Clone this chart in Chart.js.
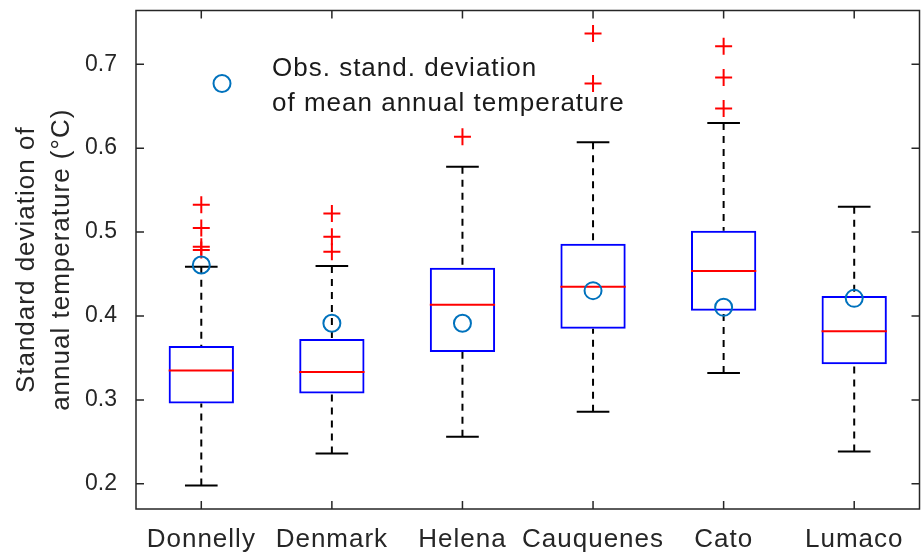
<!DOCTYPE html>
<html>
<head>
<meta charset="utf-8">
<script src="https://cdn.jsdelivr.net/npm/chart.js@4/dist/chart.umd.min.js"></script>
<style>
html, body { margin: 0; padding: 0; background: #fff; overflow: hidden; }
#wrap { width: 921px; height: 557px; overflow: hidden; }
canvas { display: block; }
</style>
</head>
<body>
<div id="wrap"><canvas id="c" width="930" height="557"></canvas></div>
<script>
// Station names along the x axis
const sites = ['Donnelly', 'Denmark', 'Helena', 'Cauquenes', 'Cato', 'Lumaco'];

// Box-plot statistics of the simulated standard deviation (°C)
const lowerWhisker = [0.198, 0.236, 0.256, 0.286, 0.332, 0.2385];
const q1           = [0.2956, 0.3075, 0.3571, 0.3849, 0.4063, 0.3425];
const median       = [0.3349, 0.3333, 0.4135, 0.4349, 0.4536, 0.3818];
const q3           = [0.3643, 0.3726, 0.4575, 0.4861, 0.5016, 0.4238];
const upperWhisker = [0.4587, 0.4595, 0.5778, 0.6071, 0.6298, 0.5302];

// Outlying values per station
const outliers = [
  [0.5325, 0.5048, 0.4825, 0.4786],
  [0.5222, 0.4944, 0.4765],
  [0.6135],
  [0.7365, 0.677],
  [0.7214, 0.6842, 0.6473],
  []
];

// Observed standard deviation of mean annual temperature
const observed = [0.4607, 0.3913, 0.3913, 0.4302, 0.4103, 0.4210];

// Axis ticks and texts
const yTicks = [0.2, 0.3, 0.4, 0.5, 0.6, 0.7];
const yTitle = ['Standard deviation of', 'annual temperature (°C)'];
const legendLines = ['Obs. stand. deviation', 'of mean annual temperature'];

const FONT = "'Liberation Sans', Arial, Helvetica, sans-serif";
const AXIS_COLOR = '#262626';
const SPACING = '1px';

// Whisker segments: cap -> box edge, broken between segments
const whiskerPoints = [];
sites.forEach((s, i) => {
  whiskerPoints.push({ x: s, y: upperWhisker[i] }, { x: s, y: q3[i] }, { x: s, y: null });
  whiskerPoints.push({ x: s, y: lowerWhisker[i] }, { x: s, y: q1[i] }, { x: s, y: null });
});

const outlierPoints = [];
sites.forEach((s, i) => outliers[i].forEach(v => outlierPoints.push({ x: s, y: v })));

// Width of one category slot in pixels
const slot = (ctx) => ctx.chart.scales.x.width / sites.length;

// Slightly wider text, as in the exported figure (numbers stay plain)
const textSpacing = {
  id: 'textSpacing',
  beforeUpdate(chart) { chart.ctx.letterSpacing = SPACING; },
  afterUpdate(chart) {
    const y = chart.scales.y;
    if (y && !y._plainLabels) {
      const drawLabels = y.drawLabels;
      y.drawLabels = function (area) {
        const ctx = this.ctx;
        const prev = ctx.letterSpacing;
        ctx.letterSpacing = '0px';
        drawLabels.call(this, area);
        ctx.letterSpacing = prev;
      };
      y._plainLabels = true;
    }
  },
  beforeDraw(chart) { chart.ctx.letterSpacing = SPACING; }
};

// Axes box with inward tick marks on all four sides
const axesBox = {
  id: 'axesBox',
  afterDraw(chart) {
    const { ctx, chartArea: a, scales: { x, y } } = chart;
    const len = 8;
    ctx.save();
    ctx.strokeStyle = AXIS_COLOR;
    ctx.lineWidth = 1.5;
    ctx.beginPath();
    y.ticks.forEach(t => {
      const py = y.getPixelForValue(t.value);
      ctx.moveTo(a.left, py); ctx.lineTo(a.left + len, py);
      ctx.moveTo(a.right, py); ctx.lineTo(a.right - len, py);
    });
    x.ticks.forEach((t, i) => {
      const px = x.getPixelForTick(i);
      ctx.moveTo(px, a.bottom); ctx.lineTo(px, a.bottom - len);
      ctx.moveTo(px, a.top); ctx.lineTo(px, a.top + len);
    });
    ctx.stroke();
    ctx.strokeRect(a.left, a.top, a.right - a.left, a.bottom - a.top);
    ctx.restore();
  }
};

// Boxless legend in the upper-left corner of the axes
const obsLegend = {
  id: 'obsLegend',
  afterDraw(chart) {
    const { ctx, chartArea: a } = chart;
    ctx.save();
    ctx.strokeStyle = '#0072BD';
    ctx.lineWidth = 2;
    ctx.beginPath();
    ctx.arc(a.left + 86, a.top + 73, 8.5, 0, Math.PI * 2);
    ctx.stroke();
    ctx.letterSpacing = SPACING;
    ctx.font = '26px ' + FONT;
    ctx.fillStyle = '#1a1a1a';
    ctx.textAlign = 'left';
    ctx.textBaseline = 'alphabetic';
    ctx.fillText(legendLines[0], a.left + 136, a.top + 65);
    ctx.fillText(legendLines[1], a.left + 136, a.top + 100);
    ctx.restore();
  }
};

new Chart(document.getElementById('c'), {
  type: 'bar',
  data: {
    labels: sites,
    datasets: [
      {
        type: 'line', label: 'Observed', data: observed, order: 0,
        showLine: false, pointStyle: 'circle', pointRadius: 8.5,
        pointBorderColor: '#0072BD', pointBackgroundColor: 'rgba(0,0,0,0)', pointBorderWidth: 2
      },
      {
        type: 'line', label: 'Outliers', data: outlierPoints, order: 1,
        showLine: false, pointStyle: 'cross', pointRadius: 8.5,
        pointBorderColor: '#ff0000', pointBorderWidth: 2
      },
      {
        type: 'line', label: 'Median', data: median, order: 2,
        showLine: false, pointStyle: 'line',
        pointRadius: (c) => slot(c) * 0.25,
        pointBorderColor: '#ff0000', pointBorderWidth: 2
      },
      {
        type: 'line', label: 'Upper cap', data: upperWhisker, order: 3,
        showLine: false, pointStyle: 'line',
        pointRadius: (c) => slot(c) * 0.125,
        pointBorderColor: '#000000', pointBorderWidth: 2
      },
      {
        type: 'line', label: 'Lower cap', data: lowerWhisker, order: 3,
        showLine: false, pointStyle: 'line',
        pointRadius: (c) => slot(c) * 0.125,
        pointBorderColor: '#000000', pointBorderWidth: 2
      },
      {
        type: 'line', label: 'Whiskers', data: whiskerPoints, order: 4,
        spanGaps: false, pointRadius: 0, borderColor: '#000000',
        borderWidth: 2, borderDash: [7, 6], tension: 0
      },
      {
        type: 'bar', label: 'Box', order: 5,
        data: sites.map((s, i) => [q1[i], q3[i]]),
        backgroundColor: 'rgba(0,0,0,0)', borderColor: '#0000ff',
        borderWidth: 2, borderSkipped: false,
        barPercentage: 0.5, categoryPercentage: 1.0
      }
    ]
  },
  options: {
    responsive: false,
    animation: false,
    events: [],
    layout: { padding: { top: 10, right: 7, bottom: 0, left: 0 } },
    plugins: {
      legend: { display: false },
      tooltip: { enabled: false }
    },
    scales: {
      x: {
        type: 'category',
        offset: true,
        grid: { display: false, drawTicks: false },
        border: { display: false },
        ticks: {
          font: { family: FONT, size: 26 },
          color: AXIS_COLOR, padding: 15, maxRotation: 0, autoSkip: false
        },
        afterFit(s) { s.height = 48; s.paddingLeft = 0; s.paddingRight = 0; }
      },
      y: {
        type: 'linear',
        min: 0.17, max: 0.764,
        grid: { display: false, drawTicks: false },
        border: { display: false },
        afterBuildTicks(s) { s.ticks = yTicks.map(v => ({ value: v })); },
        ticks: {
          callback: (v) => Number(v).toFixed(1),
          font: { family: FONT, size: 23 },
          color: AXIS_COLOR, padding: 19
        },
        title: {
          display: true, text: yTitle, color: AXIS_COLOR,
          font: { family: FONT, size: 26, lineHeight: '35px' },
          padding: { top: 9, bottom: 0 }
        },
        afterFit(s) { s.width = 136; s.paddingTop = 0; s.paddingBottom = 0; }
      }
    }
  },
  plugins: [textSpacing, axesBox, obsLegend]
});
</script>
</body>
</html>
